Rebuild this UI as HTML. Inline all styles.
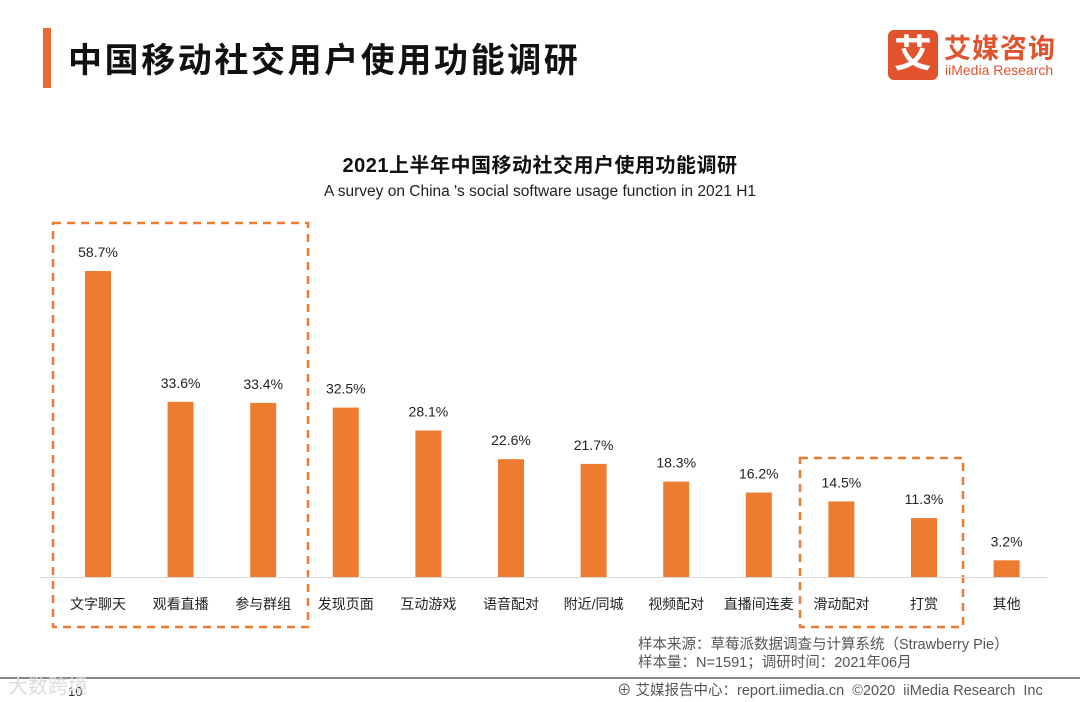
<!DOCTYPE html>
<html><head><meta charset="utf-8"><style>
body{margin:0;width:1080px;height:702px;background:#fff;overflow:hidden;position:relative;font-family:"Liberation Sans","Noto Sans CJK SC",sans-serif}
.abs{position:absolute}
</style></head><body>
<div class="abs" style="left:43px;top:28px;width:8px;height:60px;background:#ec6a2c"></div>
<div class="abs" style="left:68px;top:33px;font-size:34px;font-weight:bold;color:#111;letter-spacing:2.6px">中国移动社交用户使用功能调研</div>
<div class="abs" style="left:888px;top:30px;width:175px;height:50px">
 <div style="position:absolute;left:0;top:0;width:50px;height:50px;background:#e0532d;border-radius:6px;color:#fff;font-size:38px;font-weight:bold;text-align:center;line-height:50px">艾</div>
 <div style="position:absolute;left:56px;top:-3px;font-size:27px;font-weight:bold;color:#e0532d;letter-spacing:1px">艾媒咨询</div>
 <div style="position:absolute;left:57px;top:32px;font-size:14px;color:#e0532d">iiMedia Research</div>
</div>
<div class="abs" style="left:0;width:1080px;top:149px;text-align:center;font-size:20px;font-weight:bold;color:#111;letter-spacing:0.5px">2021上半年中国移动社交用户使用功能调研</div>
<div class="abs" style="left:0;width:1080px;top:183px;text-align:center;font-size:15.5px;color:#222">A survey on China 's social software usage function in 2021 H1</div>
<svg class="abs" style="left:0;top:0" width="1080" height="702">
<rect x="53" y="223" width="255" height="404" fill="none" stroke="#ec7c30" stroke-width="2.5" stroke-dasharray="8,6"/>
<rect x="800" y="458" width="163" height="169" fill="none" stroke="#ec7c30" stroke-width="2.5" stroke-dasharray="8,6"/>
<line x1="40" y1="577.5" x2="1047" y2="577.5" stroke="#d9d9d9" stroke-width="1"/>
<g id="bars"></g>
<line x1="0" y1="678" x2="1080" y2="678" stroke="#888" stroke-width="2"/>
</svg>
<div class="abs" style="left:638px;top:636px;font-size:14.5px;color:#555;line-height:18px">样本来源：草莓派数据调查与计算系统（Strawberry Pie）<br>样本量：N=1591；调研时间：2021年06月</div>
<div class="abs" style="left:617px;top:679px;font-size:14.5px;color:#555">⊕ 艾媒报告中心：report.iimedia.cn &nbsp;©2020 &nbsp;iiMedia Research &nbsp;Inc</div>
<div class="abs" style="left:68px;top:684px;font-size:13px;color:#333">10</div>
<div class="abs" style="left:8px;top:670px;font-size:20px;color:#ddd">大数跨境</div>
<script>
const categories=["文字聊天","观看直播","参与群组","发现页面","互动游戏","语音配对","附近/同城","视频配对","直播间连麦","滑动配对","打赏","其他"];
const values=[58.7,33.6,33.4,32.5,28.1,22.6,21.7,18.3,16.2,14.5,11.3,3.2];
const NS="http://www.w3.org/2000/svg";
const g=document.getElementById('bars');
const x0=98,step=82.6,base=577,scale=5.213,bw=26;
function xPos(i){return x0+i*step;}
function yPos(v){return base-v*scale;}
categories.forEach((c,i)=>{
 const x=xPos(i),y=yPos(values[i]);
 const r=document.createElementNS(NS,'rect');
 
 
 r.setAttribute('x',x-bw/2);r.setAttribute('y',y);r.setAttribute('width',bw);r.setAttribute('height',base-y);r.setAttribute('fill','#ec7c30');
 g.appendChild(r);
 const t=document.createElementNS(NS,'text');
 
 
 t.setAttribute('x',x);t.setAttribute('y',y-14);t.setAttribute('text-anchor','middle');t.setAttribute('font-size','14');t.setAttribute('fill','#222');
 t.textContent=values[i].toFixed(1)+'%';g.appendChild(t);
 const l=document.createElementNS(NS,'text');
 
 
 l.setAttribute('x',x);l.setAttribute('y',609);l.setAttribute('text-anchor','middle');l.setAttribute('font-size','14');l.setAttribute('fill','#222');
 l.textContent=c;g.appendChild(l);
});
</script>
</body></html>
